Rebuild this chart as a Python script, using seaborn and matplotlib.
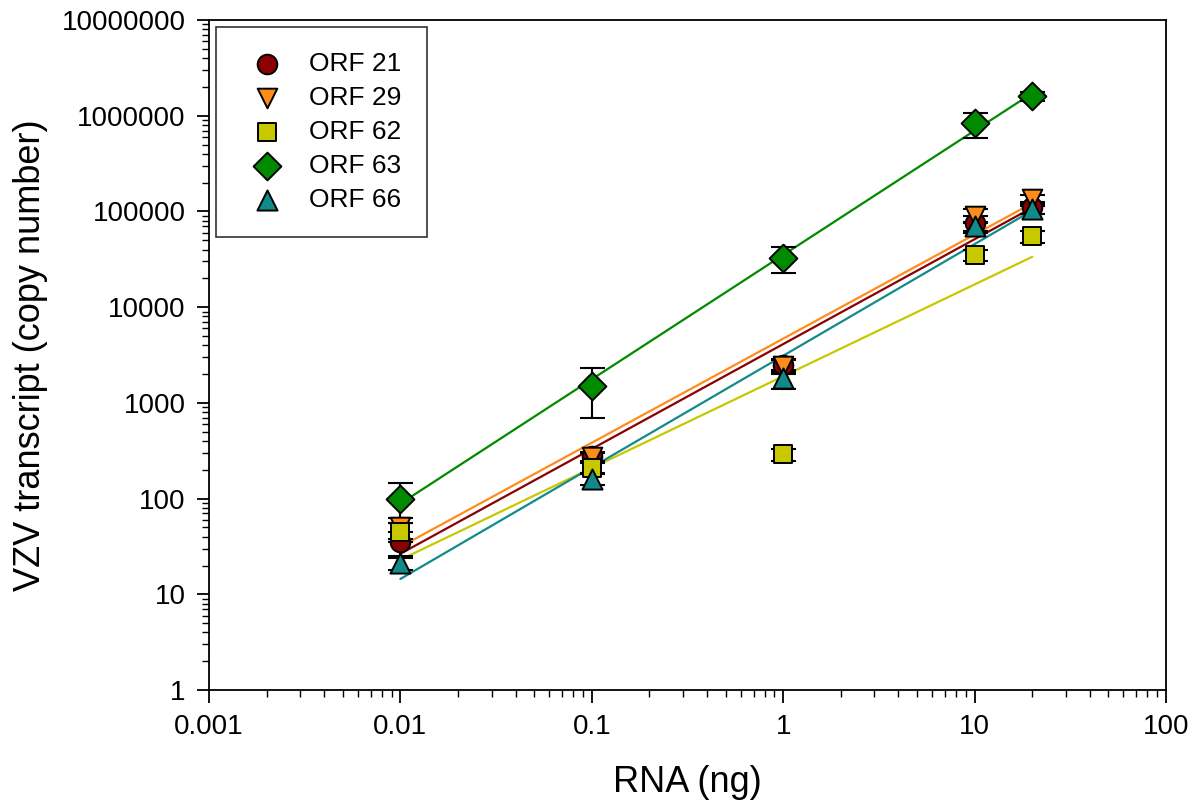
import numpy as np
import pandas as pd
import matplotlib
matplotlib.use('Agg')
import matplotlib.pyplot as plt
import seaborn as sns
from matplotlib.ticker import LogLocator, FixedLocator, NullFormatter

# %%
# data (RNA input in ng, copy numbers)
rna_ng = [0.01, 0.1, 1, 10, 20]
series_names = ['ORF 21', 'ORF 29', 'ORF 62', 'ORF 63', 'ORF 66']

orf21_mean = [35, 280, 2500, 75000, 110000]
orf21_sd = [10, 30, 400, 15000, 15000]
orf29_mean = [50, 270, 2400, 90000, 135000]
orf29_sd = [12, 30, 400, 15000, 15000]
orf62_mean = [45, 210, 290, 35000, 55000]
orf62_sd = [10, 25, 40, 5000, 8000]
orf63_mean = [100, 1500, 33000, 830000, 1600000]
orf63_sd = [45, 800, 10000, 250000, 180000]
orf66_mean = [21, 160, 1800, 70000, 105000]
orf66_sd = [3, 20, 400, 8000, 10000]

x_ticks = [0.001, 0.01, 0.1, 1, 10, 100]
x_ticklabels = ['0.001', '0.01', '0.1', '1', '10', '100']
y_ticks = [1, 10, 100, 1000, 10000, 100000, 1000000, 10000000]
y_ticklabels = ['1', '10', '100', '1000', '10000', '100000', '1000000', '10000000']

# %%
means = [orf21_mean, orf29_mean, orf62_mean, orf63_mean, orf66_mean]
sds = [orf21_sd, orf29_sd, orf62_sd, orf63_sd, orf66_sd]
colors = ['#8b0000', '#ff8c1a', '#c8c800', '#008a00', '#138a8a']
markers = ['o', 'v', 's', 'D', '^']
msizes = [200, 200, 170, 200, 210]

rows = []
for name, m, s in zip(series_names, means, sds):
    for x, yv, e in zip(rna_ng, m, s):
        rows.append({'RNA': x, 'copies': yv, 'sd': e, 'ORF': name})
df = pd.DataFrame(rows)

# log-log linear regression line for each ORF
fit_rows = []
for name in series_names:
    sub = df[df['ORF'] == name]
    k, b = np.polyfit(np.log10(sub['RNA']), np.log10(sub['copies']), 1)
    for x in [min(rna_ng), max(rna_ng)]:
        fit_rows.append({'RNA': x, 'copies': 10 ** (k * np.log10(x) + b), 'ORF': name})
df_fit = pd.DataFrame(fit_rows)

# %%
sns.set_style('white')
plt.rcParams['font.family'] = ['Liberation Sans', 'DejaVu Sans']
plt.rcParams['text.color'] = 'black'
plt.rcParams['axes.labelcolor'] = 'black'
plt.rcParams['xtick.color'] = 'black'
plt.rcParams['ytick.color'] = 'black'

fig = plt.figure(figsize=(12.04, 8.10), dpi=100)
ax = fig.add_axes([0.1736, 0.1481, 0.7948, 0.8272])
ax.set_xscale('log')
ax.set_yscale('log')

palette = dict(zip(series_names, colors))
sns.lineplot(data=df_fit, x='RNA', y='copies', hue='ORF', palette=palette,
             linewidth=1.6, legend=False, ax=ax, zorder=2)

for name, c in zip(series_names, colors):
    sub = df[df['ORF'] == name]
    ax.errorbar(sub['RNA'], sub['copies'], yerr=sub['sd'], fmt='none',
                ecolor='black', elinewidth=1.5, capsize=9, capthick=1.5, zorder=3)

for name, c, mk, ms in zip(series_names, colors, markers, msizes):
    sub = df[df['ORF'] == name]
    sns.scatterplot(data=sub, x='RNA', y='copies', marker=mk, color=c, s=ms,
                    edgecolor='black', linewidth=1.4, label=name, ax=ax, zorder=4)

ax.set_xlim(0.001, 100)
ax.set_ylim(1, 10000000)
ax.xaxis.set_major_locator(FixedLocator(x_ticks))
ax.set_xticklabels(x_ticklabels)
ax.yaxis.set_major_locator(FixedLocator(y_ticks))
ax.set_yticklabels(y_ticklabels)
ax.xaxis.set_minor_locator(LogLocator(base=10, subs=np.arange(2, 10), numticks=20))
ax.yaxis.set_minor_locator(LogLocator(base=10, subs=np.arange(2, 10), numticks=20))
ax.xaxis.set_minor_formatter(NullFormatter())
ax.yaxis.set_minor_formatter(NullFormatter())
ax.tick_params(which='major', direction='out', length=9, width=1.3, labelsize=20,
               bottom=True, left=True, top=False, right=False, pad=8)
ax.tick_params(which='minor', direction='out', length=5, width=1.0,
               bottom=True, left=True, top=False, right=False)
for sp in ax.spines.values():
    sp.set_visible(True)
    sp.set_color('black')
    sp.set_linewidth(1.3)

ax.set_xlabel('RNA (ng)', fontsize=26, labelpad=18)
ax.set_ylabel('VZV transcript (copy number)', fontsize=26, labelpad=10)

leg = ax.legend(loc='upper left', fontsize=19, frameon=True, fancybox=False,
                edgecolor='black', borderpad=0.95, labelspacing=0.38,
                handletextpad=0.6, borderaxespad=0.25, markerscale=1.0)
leg.get_frame().set_linewidth(1.2)

fig.savefig('out.png', dpi=100)
